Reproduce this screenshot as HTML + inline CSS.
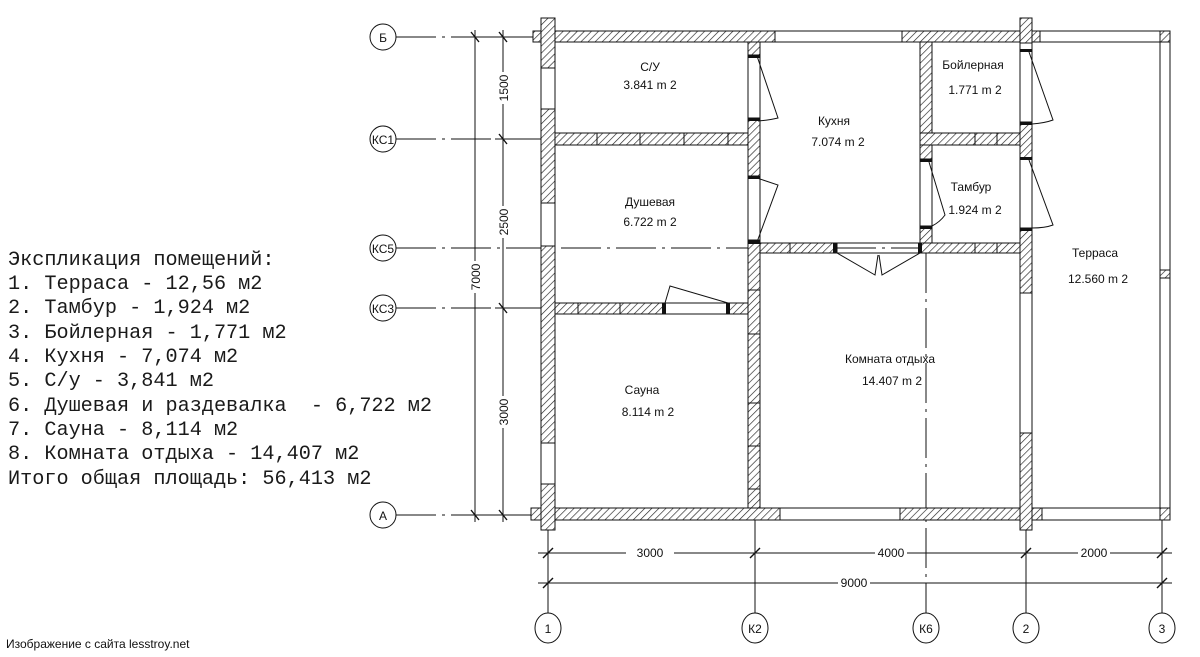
<!DOCTYPE html>
<html><head><meta charset="utf-8"><style>
html,body{margin:0;padding:0;background:#fff;}
svg{display:block;}
text{font-family:"Liberation Sans","DejaVu Sans",sans-serif;fill:#111;}
.m{font-family:"Liberation Mono","DejaVu Sans Mono",monospace;font-size:20.2px;fill:#1a1a1a;white-space:pre;}
</style></head><body>
<svg width="1200" height="657" viewBox="0 0 1200 657" xmlns="http://www.w3.org/2000/svg" xml:space="preserve">
<defs>
<pattern id="h" width="5" height="5" patternUnits="userSpaceOnUse" patternTransform="rotate(45)">
<rect width="5" height="5" fill="#fff"/><line x1="0" y1="0" x2="0" y2="5" stroke="#222" stroke-width="1.3"/>
</pattern>
</defs>
<g stroke="#111" stroke-width="1" fill="none">
<g stroke-dasharray="40,6,3,6">
<line x1="396" y1="37" x2="545" y2="37"/>
<line x1="396" y1="139" x2="545" y2="139"/>
<line x1="396" y1="248" x2="925" y2="248"/>
<line x1="396" y1="308" x2="545" y2="308"/>
<line x1="396" y1="515" x2="545" y2="515"/>
<line x1="926" y1="253" x2="926" y2="615"/>
</g>
<line x1="475" y1="30" x2="475" y2="522"/>
<line x1="503" y1="30" x2="503" y2="522"/>
<line x1="465" y1="37" x2="512" y2="37"/>
<line x1="495" y1="139" x2="512" y2="139"/>
<line x1="495" y1="308" x2="512" y2="308"/>
<line x1="465" y1="515" x2="512" y2="515"/>
<g stroke-width="1.4">
<line x1="471" y1="32" x2="479" y2="42"/><line x1="499" y1="32" x2="507" y2="42"/>
<line x1="499" y1="134" x2="507" y2="144"/><line x1="499" y1="303" x2="507" y2="313"/>
<line x1="471" y1="510" x2="479" y2="520"/><line x1="499" y1="510" x2="507" y2="520"/>
</g>
<line x1="538" y1="553" x2="1172" y2="553"/>
<line x1="538" y1="583" x2="1172" y2="583"/>
<g stroke-width="1.4">
<line x1="543" y1="558" x2="553" y2="548"/><line x1="750" y1="558" x2="760" y2="548"/>
<line x1="1021" y1="558" x2="1031" y2="548"/><line x1="1157" y1="558" x2="1167" y2="548"/>
<line x1="543" y1="588" x2="553" y2="578"/><line x1="1157" y1="588" x2="1167" y2="578"/>
</g>
<line x1="548" y1="530" x2="548" y2="615"/>
<line x1="755" y1="520" x2="755" y2="615"/>
<line x1="1026" y1="530" x2="1026" y2="615"/>
<line x1="1162" y1="520" x2="1162" y2="615"/>
<g fill="#fff">
<circle cx="383" cy="37" r="13"/><circle cx="383" cy="139" r="13"/><circle cx="383" cy="248" r="13"/>
<circle cx="383" cy="308" r="13"/><circle cx="383" cy="515" r="13"/>
<ellipse cx="548" cy="628" rx="13" ry="15"/><ellipse cx="755" cy="628" rx="13" ry="15"/>
<ellipse cx="926" cy="628" rx="13" ry="15"/><ellipse cx="1026" cy="628" rx="13" ry="15"/>
<ellipse cx="1162" cy="628" rx="13" ry="15"/>
</g>
<line x1="533" y1="31" x2="1170" y2="31"/><line x1="533" y1="42" x2="1170" y2="42"/>
<line x1="533" y1="508" x2="1170" y2="508"/><line x1="533" y1="520" x2="1170" y2="520"/>
<line x1="541" y1="18" x2="541" y2="530"/><line x1="555" y1="18" x2="555" y2="530"/>
<line x1="1020" y1="18" x2="1020" y2="530"/><line x1="1032" y1="18" x2="1032" y2="530"/>
<line x1="1160" y1="31" x2="1160" y2="520"/><line x1="1170" y1="31" x2="1170" y2="520"/>
<line x1="748" y1="42" x2="748" y2="508"/><line x1="760" y1="42" x2="760" y2="508"/>
<line x1="920" y1="42" x2="920" y2="253"/><line x1="932" y1="42" x2="932" y2="253"/>
<line x1="555" y1="303" x2="748" y2="303"/><line x1="555" y1="314" x2="748" y2="314"/>
<line x1="760" y1="243" x2="1020" y2="243"/><line x1="760" y1="253" x2="1020" y2="253"/>
</g>
<g fill="url(#h)" stroke="#111" stroke-width="1">
<rect x="533" y="31" width="242" height="11"/>
<rect x="902" y="31" width="138" height="11"/>
<rect x="1160" y="31" width="10" height="11"/>
<rect x="531" y="508" width="249" height="12"/>
<rect x="900" y="508" width="142" height="12"/>
<rect x="1160" y="508" width="10" height="12"/>
<rect x="541" y="18" width="14" height="50"/>
<rect x="541" y="109" width="14" height="94"/>
<rect x="541" y="246" width="14" height="197"/>
<rect x="541" y="484" width="14" height="46"/>
<rect x="1020" y="18" width="12" height="25"/>
<rect x="1020" y="122" width="12" height="37"/>
<rect x="1020" y="228" width="12" height="65"/>
<rect x="1020" y="433" width="12" height="97"/>
<rect x="748" y="42" width="12" height="13"/>
<rect x="748" y="118" width="12" height="58"/>
<rect x="748" y="240" width="12" height="268"/>
<rect x="920" y="42" width="12" height="117"/>
<rect x="920" y="226" width="12" height="27"/>
<rect x="555" y="133" width="193" height="12"/>
<rect x="920" y="133" width="100" height="12"/>
<rect x="555" y="303" width="110" height="11"/>
<rect x="728" y="303" width="20" height="11"/>
<rect x="760" y="243" width="77" height="10"/>
<rect x="920" y="243" width="100" height="10"/>
<rect x="1160" y="270" width="10" height="8"/>
</g>
<g stroke="#111" stroke-width="1">
<line x1="597" y1="133" x2="597" y2="145"/><line x1="640" y1="133" x2="640" y2="145"/>
<line x1="684" y1="133" x2="684" y2="145"/><line x1="728" y1="133" x2="728" y2="145"/>
<line x1="578" y1="303" x2="578" y2="314"/><line x1="620" y1="303" x2="620" y2="314"/>
<line x1="790" y1="243" x2="790" y2="253"/><line x1="975" y1="243" x2="975" y2="253"/>
<line x1="997" y1="243" x2="997" y2="253"/><line x1="975" y1="133" x2="975" y2="145"/>
<line x1="997" y1="133" x2="997" y2="145"/>
<line x1="748" y1="290" x2="760" y2="290"/><line x1="748" y1="334" x2="760" y2="334"/>
<line x1="748" y1="403" x2="760" y2="403"/><line x1="748" y1="446" x2="760" y2="446"/>
<line x1="748" y1="489" x2="760" y2="489"/>
</g>
<g fill="#111">
<rect x="748" y="55" width="12" height="3"/><rect x="748" y="118" width="12" height="3"/>
<rect x="748" y="176" width="12" height="3"/><rect x="748" y="240" width="12" height="4"/>
<rect x="1020" y="49" width="12" height="3"/><rect x="1020" y="122" width="12" height="3"/>
<rect x="1020" y="157" width="12" height="3"/><rect x="1020" y="228" width="12" height="3"/>
<rect x="920" y="159" width="12" height="3"/><rect x="920" y="226" width="12" height="3"/>
<rect x="662" y="303" width="4" height="11"/><rect x="726" y="303" width="4" height="11"/>
<rect x="833" y="243" width="4" height="10"/><rect x="918" y="243" width="4" height="10"/>
</g>
<g stroke="#111" stroke-width="1" fill="none">
<path d="M757,56 L778,118 Q770,120 758,121"/>
<path d="M757,178 L778,185 L757,242"/>
<path d="M1029,52 L1053,120 Q1045,123 1032,124"/>
<path d="M1029,160 L1053,225 Q1045,228 1032,228"/>
<path d="M929,162 L945,215 Q940,222 932,226"/>
<path d="M665,303 L670,286 L728,303"/>
<path d="M837,253 L875,275 L878,255 M920,253 L882,275 L879,255"/>
</g>
<g font-size="12" text-anchor="middle">
<text x="383" y="42">Б</text><text x="383" y="144">КС1</text><text x="383" y="253">КС5</text>
<text x="383" y="313">КС3</text><text x="383" y="520">А</text>
<text x="548" y="633">1</text><text x="755" y="633">К2</text><text x="926" y="633">К6</text>
<text x="1026" y="633">2</text><text x="1162" y="633">3</text>
<text x="650" y="71">С/У</text><text x="650" y="89">3.841 m 2</text>
<text x="834" y="125">Кухня</text><text x="838" y="146">7.074 m 2</text>
<text x="973" y="69">Бойлерная</text><text x="975" y="94">1.771 m 2</text>
<text x="971" y="191">Тамбур</text><text x="975" y="214">1.924 m 2</text>
<text x="650" y="206">Душевая</text><text x="650" y="226">6.722 m 2</text>
<text x="1095" y="257">Терраса</text><text x="1098" y="283">12.560 m 2</text>
<text x="642" y="394">Сауна</text><text x="648" y="416">8.114 m 2</text>
<text x="890" y="363">Комната отдыха</text><text x="892" y="385">14.407 m 2</text>
<g><rect x="626" y="544" width="48" height="14" fill="#fff"/><text x="650" y="557">3000</text>
<rect x="875" y="544" width="32" height="14" fill="#fff"/><text x="891" y="557">4000</text>
<rect x="1078" y="544" width="32" height="14" fill="#fff"/><text x="1094" y="557">2000</text>
<rect x="838" y="574" width="32" height="14" fill="#fff"/><text x="854" y="587">9000</text></g>
</g>
<g font-size="12" text-anchor="middle">
<g transform="translate(508,88) rotate(-90)"><rect x="-16" y="-10" width="32" height="13" fill="#fff"/><text>1500</text></g>
<g transform="translate(508,222) rotate(-90)"><rect x="-16" y="-10" width="32" height="13" fill="#fff"/><text>2500</text></g>
<g transform="translate(480,277) rotate(-90)"><rect x="-16" y="-10" width="32" height="13" fill="#fff"/><text>7000</text></g>
<g transform="translate(508,412) rotate(-90)"><rect x="-16" y="-10" width="32" height="13" fill="#fff"/><text>3000</text></g>
</g>
<text class="m" x="8" y="265">Экспликация помещений:</text>
<text class="m" x="8" y="289">1. Терраса - 12,56 м2</text>
<text class="m" x="8" y="313">2. Тамбур - 1,924 м2</text>
<text class="m" x="8" y="338">3. Бойлерная - 1,771 м2</text>
<text class="m" x="8" y="362">4. Кухня - 7,074 м2</text>
<text class="m" x="8" y="386">5. С/у - 3,841 м2</text>
<text class="m" x="8" y="411">6. Душевая и раздевалка  - 6,722 м2</text>
<text class="m" x="8" y="435">7. Сауна - 8,114 м2</text>
<text class="m" x="8" y="459">8. Комната отдыха - 14,407 м2</text>
<text class="m" x="8" y="484">Итого общая площадь: 56,413 м2</text>
<text x="6" y="648" font-size="12" fill="#333">Изображение с сайта lesstroy.net</text>
</svg>
</body></html>
